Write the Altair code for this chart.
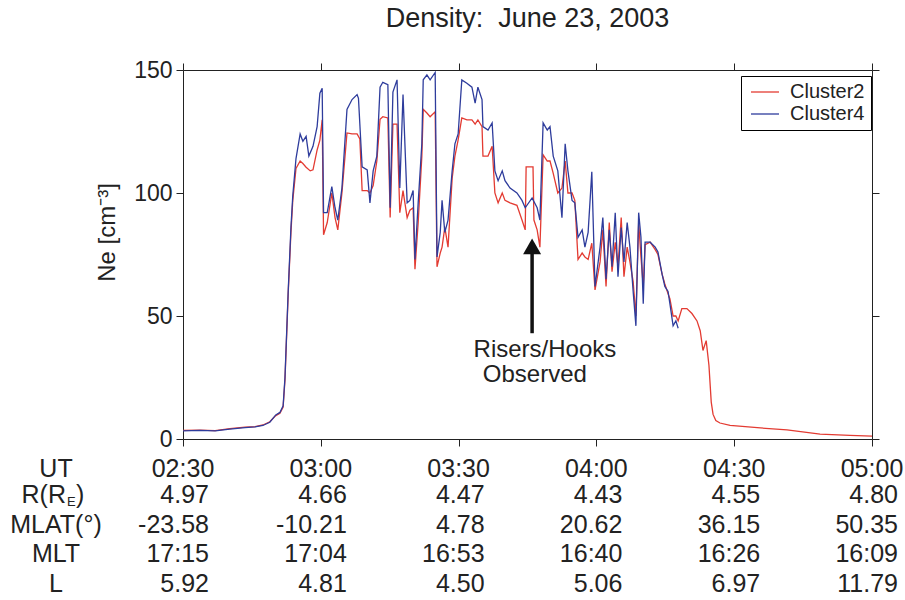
import altair as alt
import pandas as pd

FONT = "Liberation Sans"
INK = "#222222"
RED = "#e33b32"
BLUE = "#2e3c9c"

# ---- data: minutes after 02:30 UT, electron density Ne (cm^-3) ----
c2_minutes = [0, 3.7, 7.0, 10.2, 13.5, 15.7, 17.4, 18.9, 20.2, 21.1, 21.8, 22.2, 22.9, 23.5, 23.9, 24.6,
              25.5, 26.1, 26.8, 27.7, 28.3, 29.2, 29.8, 30.3, 30.6, 31.4, 32.4, 33.1, 33.7, 34.6, 35.7,
              36.8, 37.9, 38.5, 39.0, 40.1, 40.7, 41.4, 42.2, 42.9, 43.5, 44.6, 45.1, 45.7, 46.6, 47.2,
              47.9, 48.8, 49.4, 50.1, 50.5, 51.2, 52.0, 52.3, 53.1, 53.8, 54.9, 55.3, 56.0, 56.4, 57.0,
              57.7, 58.6, 59.2, 59.9, 60.7, 61.8, 62.9, 63.6, 64.2, 65.1, 65.3, 66.4, 67.3, 67.9, 68.6,
              69.5, 70.1, 71.2, 72.7, 73.8, 74.5, 74.7, 76.2, 76.4, 77.1, 77.7, 78.4, 79.3, 79.9, 80.6,
              81.6, 82.5, 83.2, 83.8, 84.7, 85.3, 86.0, 86.9, 87.5, 88.2, 89.0, 89.7, 90.8, 91.4, 92.1,
              92.8, 93.4, 94.1, 94.7, 95.4, 96.0, 96.7, 97.3, 98.0, 98.6, 99.2, 99.7, 100.2, 100.6, 101.7,
              102.8, 103.4, 104.3, 104.9, 105.6, 106.0, 106.7, 107.3, 107.8, 108.6, 109.7, 110.8, 111.9,
              112.6, 113.2, 113.9, 114.5, 115.0, 115.4, 116.0, 116.9, 119.1, 122.4, 125.7, 131.5, 138.7,
              145.2, 150.0]
c2_values = [3.5, 3.6, 3.4, 4.2, 4.8, 5.0, 5.7, 7.0, 9.5, 10.5, 13, 24, 59, 84, 97, 110,
             113, 112, 110.5, 109, 109.4, 117.5, 121.5, 129.7, 83, 88, 100, 90, 85, 100, 124.4,
             124, 124, 122, 101, 101, 100, 103, 113, 130, 131, 130.5, 90, 128, 128, 92,
             101, 90, 93, 94, 69, 88, 115, 134, 132.5, 131, 133, 70, 75.6, 78, 86,
             78, 106, 115, 121.6, 130.5, 129.7, 129.7, 128, 129.7, 127, 115, 115, 119, 100, 96,
             100, 97, 96, 95, 89, 85, 110.6, 110.6, 89, 85, 78, 115.5, 113, 113, 108,
             100, 102, 113, 100, 100, 97, 73, 75.6, 74, 73, 79.6, 60.6, 72, 85, 62,
             88, 68, 80, 70, 90, 66, 78, 72, 64, 50, 88, 74, 62, 79, 80,
             77, 75, 67, 63, 59, 57, 50, 50, 48, 53, 53, 51, 48,
             44, 36, 40, 30, 15, 10, 7.5, 6.5, 5.5, 5.0, 4.5, 3.7, 2.0,
             1.5, 1.2]

c4_minutes = [0, 3.7, 7.0, 10.2, 13.5, 15.7, 17.4, 18.9, 20.2, 21.1, 21.8, 22.2, 22.9, 23.5, 23.9, 24.6,
              25.5, 26.1, 26.8, 27.4, 28.3, 29.2, 29.8, 30.3, 30.6, 31.4, 32.4, 33.1, 33.7, 34.6, 35.7,
              36.8, 37.9, 38.2, 39.0, 40.1, 40.7, 41.4, 42.2, 42.9, 43.5, 44.6, 45.1, 45.7, 46.6, 47.2,
              47.9, 48.8, 49.4, 50.1, 50.5, 51.2, 52.0, 52.3, 53.1, 53.8, 54.9, 55.3, 56.0, 56.4, 57.0,
              57.7, 58.6, 59.2, 59.9, 60.7, 61.8, 62.9, 63.6, 64.2, 65.1, 65.3, 66.4, 67.3, 67.9, 68.6,
              69.5, 70.1, 71.2, 72.7, 73.8, 74.5, 76.0, 77.1, 77.7, 78.4, 79.3, 79.9, 80.6, 81.6, 82.5,
              83.2, 83.8, 84.7, 85.3, 86.0, 86.9, 87.5, 88.2, 89.0, 89.7, 90.8, 91.4, 92.1, 92.8, 93.4,
              94.1, 94.7, 95.4, 96.0, 96.7, 97.3, 98.0, 98.6, 99.2, 99.7, 100.2, 100.6, 101.7, 102.8,
              103.4, 104.3, 104.9, 105.6, 106.0, 106.7, 107.3, 107.8]
c4_values = [3.3, 3.5, 3.3, 4.0, 4.6, 4.9, 5.5, 6.8, 9.8, 10.8, 13.5, 25, 60, 86, 99, 114,
             124, 121, 123, 115, 119, 127, 140.6, 142.6, 92, 92, 102.6, 94, 89, 102, 134,
             138, 140, 138.5, 110.6, 109.4, 96, 109, 115, 143, 145, 144, 94, 141, 146, 102,
             140, 96, 97, 101, 73, 96, 120, 146, 148, 146, 149, 74, 84, 97, 84,
             89, 109, 120, 124, 146, 144.6, 143, 136.5, 143, 138, 127, 125.6, 128.5, 109, 105,
             109, 105, 102, 100, 97, 94, 98, 94, 89, 128.5, 125.6, 127, 115, 109, 90,
             120, 109, 97, 96, 82, 85, 78, 84, 108.6, 62, 78, 90, 65, 85, 70,
             92, 66, 86, 72, 88, 78, 60, 46, 92, 82, 55, 80, 80, 78,
             76, 67, 62, 60, 55, 46, 48, 45]

series_names = ["Cluster2", "Cluster4"]

# ---- ephemeris table ----
ut_minutes = [0, 30, 60, 90, 120, 150]
ut_labels = ["02:30", "03:00", "03:30", "04:00", "04:30", "05:00"]
r_values = ["4.97", "4.66", "4.47", "4.43", "4.55", "4.80"]
mlat_values = ["-23.58", "-10.21", "4.78", "20.62", "36.15", "50.35"]
mlt_values = ["17:15", "17:04", "16:53", "16:40", "16:26", "16:09"]
l_values = ["5.92", "4.81", "4.50", "5.06", "6.97", "11.79"]
y_ticks = [0, 50, 100, 150]

# annotation
note_minutes = [78.8, 76.6]
note_values = [33.3, 23.2]
note_lines = ["Risers/Hooks", "Observed"]
arrow_minute = 76.0
arrow_tail, arrow_base, arrow_head_center = 43.0, 77.0, 78.3

# ---- layout ----
W, H = 689, 369
xs = alt.Scale(domain=[0, 150], nice=False, zero=False)
ys = alt.Scale(domain=[0, 150], nice=False)

line_df = pd.concat([
    pd.DataFrame({"minute": c2_minutes, "ne": c2_values, "series": series_names[0]}),
    pd.DataFrame({"minute": c4_minutes, "ne": c4_values, "series": series_names[1]}),
])

axis_common = dict(domainColor=INK, tickColor=INK, domainWidth=1, tickWidth=1,
                   tickSize=7, grid=False)

lines = alt.Chart(line_df).mark_line(strokeWidth=1.3).encode(
    x=alt.X("minute:Q", scale=xs,
            axis=alt.Axis(orient="bottom", values=ut_minutes, labels=False, title=None, **axis_common)),
    y=alt.Y("ne:Q", scale=ys,
            axis=alt.Axis(orient="left", values=y_ticks, title="Ne [cm⁻³]", labelFontSize=23,
                          labelColor=INK, labelPadding=4, labelFont=FONT,
                          titleFont=FONT, titleFontSize=24, titleFontWeight="normal",
                          titleColor=INK, titlePadding=14, titleY=162, **axis_common)),
    color=alt.Color("series:N",
                    scale=alt.Scale(domain=series_names, range=[RED, BLUE]),
                    legend=alt.Legend(orient="none", legendX=558, legendY=6, title=None,
                                      symbolType="M-2,0H2", symbolSize=196, symbolStrokeWidth=1.3,
                                      symbolOffset=8, labelOffset=15, labelFontSize=20,
                                      labelFont=FONT, labelColor=INK, padding=6, rowPadding=2,
                                      fillColor="white", strokeColor="black")),
)

frame = alt.Chart(pd.DataFrame({"minute": [0, 150], "ne": [0, 150]})).mark_point(opacity=0).encode(
    x=alt.X("minute:Q", scale=xs,
            axis=alt.Axis(orient="top", values=ut_minutes, labels=False, title=None, **axis_common)),
    y=alt.Y("ne:Q", scale=ys,
            axis=alt.Axis(orient="right", values=y_ticks, labels=False, title=None, **axis_common)),
)

shaft = alt.Chart(pd.DataFrame({"minute": [arrow_minute], "ne": [arrow_tail], "ne2": [arrow_base]})
                  ).mark_rule(strokeWidth=3.5, color="#111111").encode(
    x=alt.X("minute:Q", scale=xs, axis=None),
    y=alt.Y("ne:Q", scale=ys, axis=None),
    y2="ne2:Q",
)
head = alt.Chart(pd.DataFrame({"minute": [arrow_minute], "ne": [arrow_head_center]})).mark_point(
    shape="triangle-up", size=324, filled=True, color="#111111", opacity=1).encode(
    x=alt.X("minute:Q", scale=xs, axis=None),
    y=alt.Y("ne:Q", scale=ys, axis=None),
)
note = alt.Chart(pd.DataFrame({"minute": note_minutes, "ne": note_values, "text": note_lines})
                 ).mark_text(font=FONT, fontSize=24, color=INK, align="center", baseline="alphabetic").encode(
    x=alt.X("minute:Q", scale=xs, axis=None),
    y=alt.Y("ne:Q", scale=ys, axis=None),
    text="text:N",
)

layers = [lines, frame, shaft, head, note]

# table rows below the plot
row_baselines = [407, 433, 463, 492, 522]
row_sets = [ut_labels, r_values, mlat_values, mlt_values, l_values]
for i, vals in enumerate(row_sets):
    df = pd.DataFrame({"minute": ut_minutes, "text": vals})
    is_ut = i == 0
    layers.append(
        alt.Chart(df).mark_text(font=FONT, fontSize=25, color=INK, baseline="alphabetic",
                                align="center" if is_ut else "right", dx=0 if is_ut else 26).encode(
            x=alt.X("minute:Q", scale=xs, axis=None),
            y=alt.value(row_baselines[i]),
            text="text:N",
        )
    )

label_x = -127
row_labels = [("UT", 0), ("MLAT(°)", 2), ("MLT", 3), ("L", 4)]
for name, idx in row_labels:
    layers.append(
        alt.Chart(pd.DataFrame({"label": [name]})).mark_text(
            font=FONT, fontSize=25, color=INK, baseline="alphabetic", align="center").encode(
            x=alt.value(label_x), y=alt.value(row_baselines[idx]), text="label:N")
    )
# R(R_E) with subscript
for txt, xpos, size, dy, align in [("R(R", -117, 25, 0, "right"), ("E", -116, 13, 3, "left"),
                                   (")", -107, 25, 0, "left")]:
    layers.append(
        alt.Chart(pd.DataFrame({"label": [txt]})).mark_text(
            font=FONT, fontSize=size, color=INK, baseline="alphabetic", align=align, dy=dy).encode(
            x=alt.value(xpos), y=alt.value(row_baselines[1]), text="label:N")
    )

chart = alt.layer(*layers).resolve_axis(x="independent", y="independent").properties(
    width=W, height=H,
    padding={"left": 183, "top": 70, "right": 33, "bottom": 161},
    autosize=alt.AutoSizeParams(type="none"),
    title=alt.TitleParams("Density:\u00a0 June 23, 2003", font=FONT, fontSize=27,
                          fontWeight="normal", color=INK, anchor="middle", offset=26),
).configure_view(stroke=None).configure(background="white")

chart.save("out.html", embed_options={"renderer": "svg", "actions": False})
